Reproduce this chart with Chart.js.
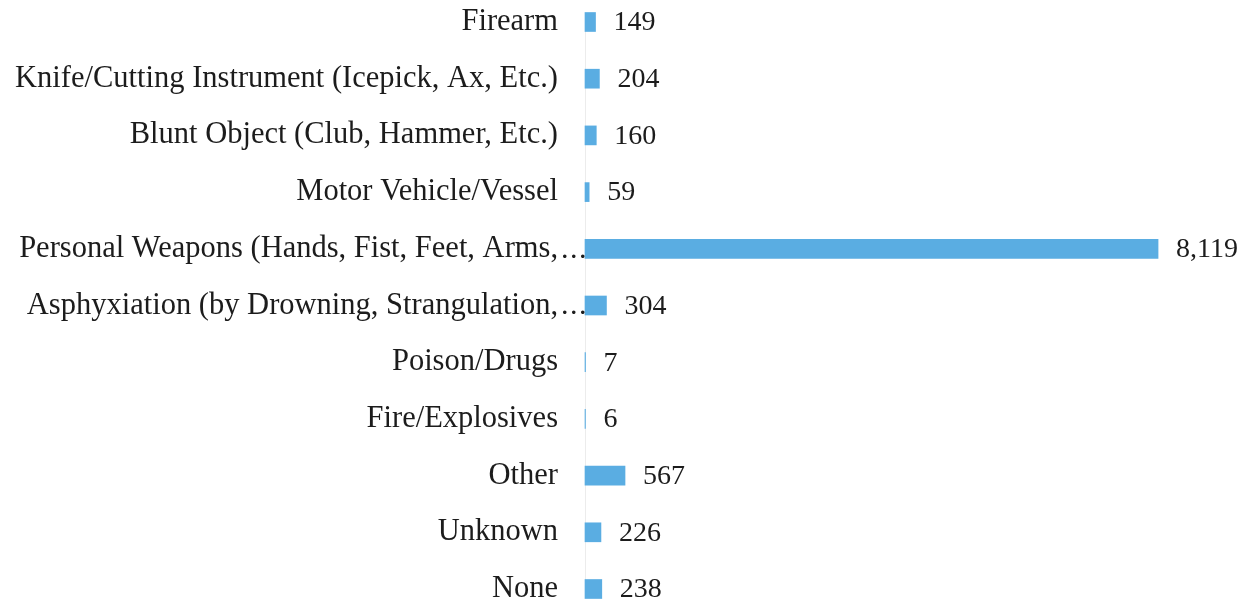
<!DOCTYPE html>
<html>
<head>
<meta charset="utf-8">
<script src="https://cdn.jsdelivr.net/npm/chart.js@4"></script>
<style>
  html, body { margin: 0; padding: 0; background: #fff; }
  #wrap { width: 1251px; height: 602px; }
</style>
</head>
<body>
<div id="wrap"><canvas id="weaponChart"></canvas></div>
<script>
// Data
const categories = [
    'Firearm',
    'Knife/Cutting Instrument (Icepick, Ax, Etc.)',
    'Blunt Object (Club, Hammer, Etc.)',
    'Motor Vehicle/Vessel',
    'Personal Weapons (Hands, Fist, Feet, Arms,...',
    'Asphyxiation (by Drowning, Strangulation,...',
    'Poison/Drugs',
    'Fire/Explosives',
    'Other',
    'Unknown',
    'None'
];
const offenseCounts = [149, 204, 160, 59, 8119, 304, 7, 6, 567, 226, 238];
const xMax = 9280;

const FONT = '"Liberation Serif", "Times New Roman", serif';
const TEXT_COLOR = '#1c1c1c';

// value labels at bar end + trailing dots for cut-off categories
const labelPlugin = {
    id: 'labelPlugin',
    afterDatasetsDraw(chart) {
        const ctx = chart.ctx;
        const meta = chart.getDatasetMeta(0);
        const yScale = chart.scales.y;
        ctx.save();
        ctx.fillStyle = TEXT_COLOR;
        ctx.textBaseline = 'middle';
        ctx.textAlign = 'left';
        ctx.font = `28px ${FONT}`;
        meta.data.forEach((bar, i) => {
            ctx.fillText(offenseCounts[i].toLocaleString('en-US'), bar.x + 18, bar.y + 1);
        });
        ctx.font = `30px ${FONT}`;
        categories.forEach((c, i) => {
            if (c.endsWith('...')) {
                const y = yScale.getPixelForTick(i);
                for (let d = 0; d < 3; d++) {
                    ctx.fillText('.', 561 + d * 9, y + 1);
                }
            }
        });
        ctx.restore();
    }
};

new Chart(document.getElementById('weaponChart'), {
    type: 'bar',
    data: {
        labels: categories,
        datasets: [{
            data: offenseCounts,
            backgroundColor: '#5aade2',
            borderWidth: 0,
            barThickness: 19,
            clip: false
        }]
    },
    options: {
        indexAxis: 'y',
        responsive: true,
        maintainAspectRatio: false,
        animation: false,
        layout: { padding: { top: 22, bottom: 13, left: 0, right: 11 } },
        plugins: {
            legend: { display: false },
            tooltip: { enabled: false }
        },
        scales: {
            x: { display: false, min: 0, max: xMax },
            y: {
                offset: false,
                afterFit: (scale) => {
                    scale.width = 585;
                    scale.paddingTop = 0;
                    scale.paddingBottom = 0;
                },
                grid: { display: false, drawTicks: false },
                border: { display: true, color: '#ececec', width: 1 },
                ticks: {
                    padding: 27,
                    color: TEXT_COLOR,
                    font: { family: FONT, size: 30.5 },
                    callback: function (value) {
                        const c = categories[value];
                        return c.endsWith('...') ? c.slice(0, -3) : c;
                    }
                }
            }
        }
    },
    plugins: [labelPlugin]
});
</script>
</body>
</html>
